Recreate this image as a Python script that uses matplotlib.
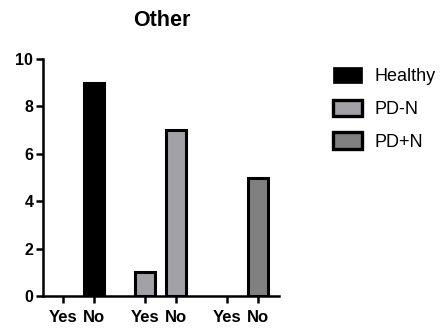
import matplotlib

matplotlib.use("Agg")
import matplotlib.pyplot as plt
from matplotlib.patches import Patch

groups = ["Healthy", "PD-N", "PD+N"]
answers = ["Yes", "No"]
yes_counts = [0, 1, 0]
no_counts = [9, 7, 5]
colors = ["#000000", "#a1a1a6", "#808080"]

plt.rcParams["font.family"] = ["Liberation Sans", "DejaVu Sans"]

fig = plt.figure(figsize=(4.42, 3.31), dpi=100)
ax = fig.add_axes([43 / 442, 1 - 296 / 331, 236 / 442, 237 / 331])

group_step = 2.65
width = 0.65
ticks = []
labels = []
for i, (g, y, n, c) in enumerate(zip(groups, yes_counts, no_counts, colors)):
    x0 = i * group_step
    for dx, v in zip([0, 1], [y, n]):
        if v > 0:
            ax.bar(x0 + dx, v, width=width, color=c, edgecolor="black",
                   linewidth=2.2, zorder=2)
    ticks += [x0, x0 + 1]
    labels += answers

ax.set_xlim(-0.645, 6.97)
ax.set_ylim(0, 10)
ax.set_xticks(ticks)
ax.set_xticklabels(labels, fontsize=12, fontweight="bold")
ax.set_yticks([0, 2, 4, 6, 8, 10])
ax.set_yticklabels([0, 2, 4, 6, 8, 10], fontsize=11.5, fontweight="bold")
ax.tick_params(width=1.8, length=5, pad=2)
ax.tick_params(axis="x", pad=5)

for side in ["top", "right"]:
    ax.spines[side].set_visible(False)
for side in ["left", "bottom"]:
    ax.spines[side].set_linewidth(1.8)
    ax.spines[side].set_zorder(3)

fig.text(162 / 442, 1 - 20 / 331, "Other", ha="center", va="center",
         fontsize=15.5, fontweight="bold")

handles = [
    Patch(facecolor=c, edgecolor="black", linewidth=2.4 if i else 0.5)
    for i, c in enumerate(colors)
]
fig.legend(handles, groups, loc="upper left",
           bbox_to_anchor=(333 / 442, 1 - 67 / 331),
           frameon=False, fontsize=13, borderpad=0, borderaxespad=0,
           handlelength=1.6, handleheight=1.0,
           labelspacing=0.8, handletextpad=0.7)

fig.savefig("out.png", dpi=100)
